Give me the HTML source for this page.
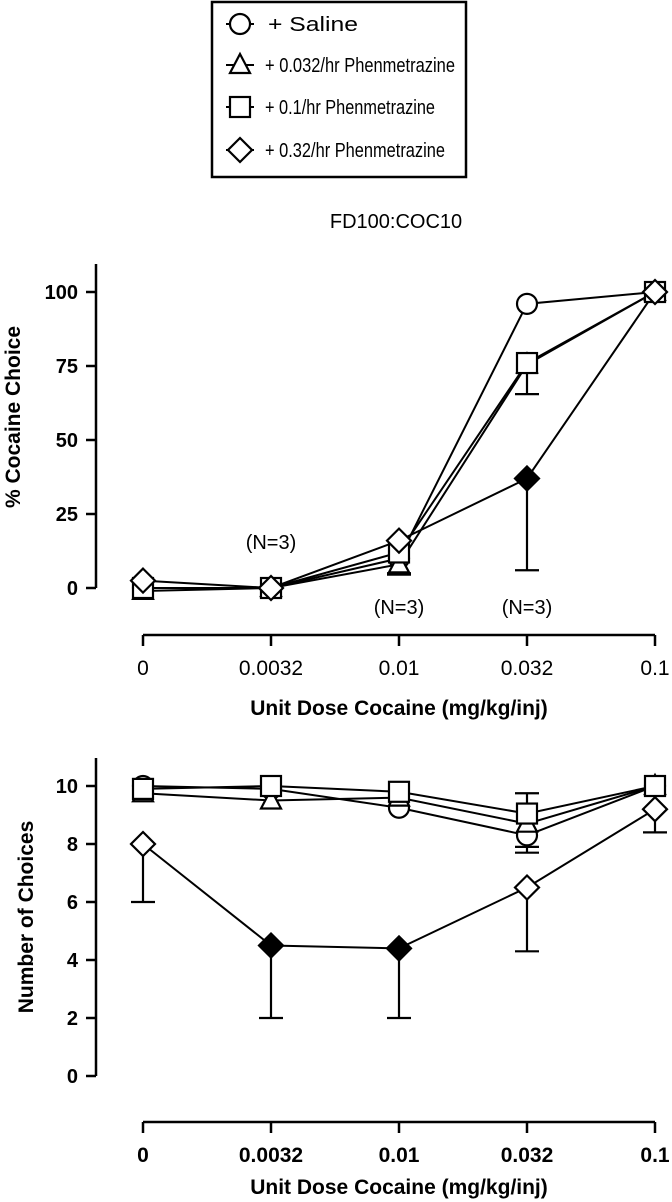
<!DOCTYPE html>
<html><head><meta charset="utf-8"><style>
html,body{margin:0;padding:0;background:#fff}
svg{display:block}
text{font-family:"Liberation Sans",Arial,sans-serif;fill:#000}
</style></head><body>
<svg id="chart" width="672" height="1202" viewBox="0 0 672 1202">
<g id="legend">
  <rect x="212" y="2" width="254" height="175" fill="#fff" stroke="#000" stroke-width="2.5"/>
</g>
<text x="396" y="228" font-size="20" text-anchor="middle">FD100:COC10</text>
<g id="top"></g>
<g id="bot"></g>
</svg>
<script>
const NS="http://www.w3.org/2000/svg";
const categories=["0","0.0032","0.01","0.032","0.1"];
const seriesNames=["+ Saline","+ 0.032/hr Phenmetrazine","+ 0.1/hr Phenmetrazine","+ 0.32/hr Phenmetrazine"];
const seriesShapes=["circle","triangle","square","diamond"];
// top panel: % cocaine choice
const topSaline=[0,0,10,96,100];
const topTri=[-1,0,8,75.5,100];
const topSquare=[0,0,12,76,100];
const topDiamond=[2.5,0,16,37,100];
const topTriErr=[null,null,4.5,65.5,null];
const topSquareErr=[null,null,5,null,null];
const topDiamondErr=[null,null,null,6,null];
const topDiamondFilled=[false,false,false,true,false];
const topTicks=[0,25,50,75,100];
// bottom panel: number of choices
const botSaline=[10,9.9,9.25,8.3,10];
const botTri=[9.75,9.5,9.6,8.7,10];
const botSquare=[9.9,10,9.8,9.05,10];
const botDiamond=[8,4.5,4.4,6.5,9.2];
const botSalineErr=[null,null,null,7.7,null];
const botTriErr=[null,null,null,7.9,null];
const botSquareErr=[null,null,null,9.75,null];
const botDiamondErr=[6,2,2,4.3,8.4];
const botDiamondFilled=[false,true,true,false,false];
const botTicks=[0,2,4,6,8,10];

function el(tag,attrs,parent){const e=document.createElementNS(NS,tag);for(const k in attrs)e.setAttribute(k,attrs[k]);parent.appendChild(e);return e;}
function xPos(i){return 143+i*128;}

function marker(g,shape,cx,cy,filled){
  const f=filled?"#000":"#fff";let m;
  if(shape==="circle")m=el("circle",{cx:cx,cy:cy,r:10,fill:f,stroke:"#000","stroke-width":2.2},g);
  else if(shape==="triangle")m=el("polygon",{points:`${cx},${cy-11} ${cx+10},${cy+8} ${cx-10},${cy+8}`,fill:f,stroke:"#000","stroke-width":2.2},g);
  else if(shape==="square")m=el("rect",{x:cx-10,y:cy-10,width:20,height:20,fill:f,stroke:"#000","stroke-width":2.2},g);
  else m=el("polygon",{points:`${cx},${cy-12} ${cx+12},${cy} ${cx},${cy+12} ${cx-12},${cy}`,fill:f,stroke:"#000","stroke-width":2.2},g);
  
  
  return m;
}

// legend
const lg=document.getElementById("legend");
const legY=[24,65,107,150];
const legLen=[90,190,170,180];
seriesNames.forEach((n,i)=>{
  const g=el("g",{},lg);
  
  
  el("line",{x1:226,x2:254,y1:legY[i],y2:legY[i],stroke:"#000","stroke-width":2},g);
  marker(g,seriesShapes[i],240,legY[i],false);
  const t=el("text",{x:i===0?268:265,y:legY[i]+7,"font-size":20,textLength:legLen[i],lengthAdjust:"spacingAndGlyphs"},g);
  t.textContent=n;
});

function panel(gid,yFn,ticks,axTop,axBot,xAxisY,series,errs,filledArr,yLabel,yLabelX,yLabelY,boldX){
  const g=document.getElementById(gid);
  const ax=el("line",{x1:96,x2:96,y1:axTop,y2:axBot,stroke:"#000","stroke-width":2.5},g);
  
  ticks.forEach(v=>{
    const y=yFn(v);
    el("line",{x1:86,x2:96,y1:y,y2:y,stroke:"#000","stroke-width":2.5},g);
    const t=el("text",{x:78,y:y+7,"font-size":20,"font-weight":"bold","text-anchor":"end"},g);
    
    t.textContent=v;
  });
  const yl=el("text",{x:yLabelX,y:yLabelY,"font-size":21,"font-weight":"bold","text-anchor":"middle",transform:`rotate(-90 ${yLabelX} ${yLabelY})`},g);
  
  yl.textContent=yLabel;
  const xa=el("line",{x1:xPos(0),x2:xPos(4),y1:xAxisY,y2:xAxisY,stroke:"#000","stroke-width":2.5},g);
  
  categories.forEach((c,i)=>{
    el("line",{x1:xPos(i),x2:xPos(i),y1:xAxisY,y2:xAxisY+11,stroke:"#000","stroke-width":2.5},g);
    const t=el("text",{x:xPos(i),y:xAxisY+40,"font-size":21,"font-weight":boldX?"bold":"normal","text-anchor":"middle"},g);
    
    t.textContent=c;
  });
  const xt=el("text",{x:xPos(2),y:xAxisY+(boldX?72:80),"font-size":21,"font-weight":"bold","text-anchor":"middle"},g);
  
  xt.textContent="Unit Dose Cocaine (mg/kg/inj)";
  // error bars
  series.forEach((s,si)=>{
    const e=errs[si];if(!e)return;
    s.forEach((v,i)=>{
      if(e[i]==null)return;
      const y0=yFn(v),y1=yFn(e[i]);
      const eg=el("g",{},g);
      
      el("line",{x1:xPos(i),x2:xPos(i),y1:y0,y2:y1,stroke:"#000","stroke-width":2.2},eg);
      el("line",{x1:xPos(i)-12,x2:xPos(i)+12,y1:y1,y2:y1,stroke:"#000","stroke-width":2.2},eg);
    });
  });
  series.forEach((s,si)=>{
    const pl=el("polyline",{points:s.map((v,i)=>xPos(i)+","+yFn(v)).join(" "),fill:"none",stroke:"#000","stroke-width":2},g);
    
  });
  series.forEach((s,si)=>{
    s.forEach((v,i)=>{marker(g,seriesShapes[si],xPos(i),yFn(v),si===3&&filledArr[i]);});
  });
}
const yTop=v=>588-v*2.96;
const yBot=v=>1076-v*29;
panel("top",yTop,topTicks,264,588,635,[topSaline,topTri,topSquare,topDiamond],[null,topTriErr,topSquareErr,topDiamondErr],topDiamondFilled,"% Cocaine Choice",20,417,false);
panel("bot",yBot,botTicks,758,1076,1122,[botSaline,botTri,botSquare,botDiamond],[botSalineErr,botTriErr,botSquareErr,botDiamondErr],botDiamondFilled,"Number of Choices",33,917,true);
// N=3 annotations
const nNotes=[[1,542],[2,607],[3,607]];
const tg=document.getElementById("top");
nNotes.forEach(n=>{
  const t=el("text",{x:xPos(n[0]),y:n[1]+7,"font-size":20,"text-anchor":"middle"},tg);
  
  
  t.textContent="(N=3)";
});
</script>
</body></html>
